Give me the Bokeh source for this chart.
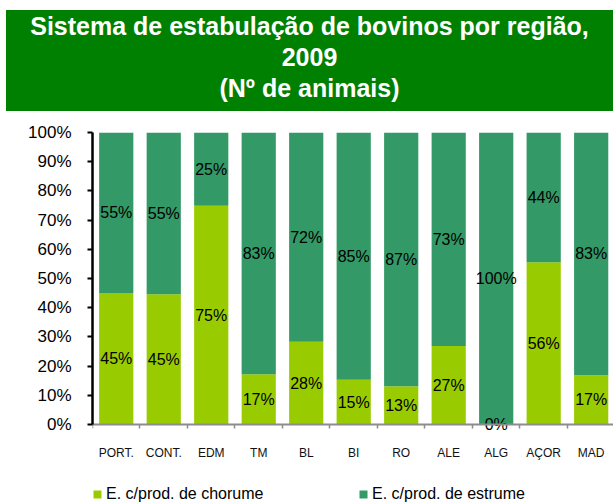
from bokeh.plotting import figure
from bokeh.models import (Range1d, FixedTicker, LinearAxis, Legend, LegendItem,
                          ColumnDataSource, Div)
from bokeh.layouts import column
from bokeh.core.properties import value
from bokeh.embed import file_html
from bokeh.resources import INLINE

# ---------------- data ----------------
categories = ["PORT.", "CONT.", "EDM", "TM", "BL", "BI", "RO", "ALE", "ALG", "AÇOR", "MAD"]
chorume = [45.0, 44.6, 74.9, 17.2, 28.3, 15.3, 13.1, 26.9, 0.0, 55.6, 16.9]
estrume = [55.0, 55.4, 25.1, 82.8, 71.7, 84.7, 86.9, 73.1, 100.0, 44.4, 83.1]
series_names = ["E. c/prod. de chorume", "E. c/prod. de estrume"]
y_ticks = [0, 10, 20, 30, 40, 50, 60, 70, 80, 90, 100]
y_tick_labels = ["0%", "10%", "20%", "30%", "40%", "50%", "60%", "70%", "80%", "90%", "100%"]
title_lines = ["Sistema de estabulação de bovinos por região,", "2009", "(Nº de animais)"]

FONT = "Liberation Sans"
LIGHT = "#99CC00"
DARK = "#339966"
HEADER = "#008000"
W = 613

# ---------------- header ----------------
hdr_html = (
    '<div style="padding:10px 0 0 6px;width:613px;height:112px;box-sizing:border-box;">'
    '<div style="width:607px;height:101px;background:%s;color:white;'
    'font-family:\'%s\';font-weight:bold;font-size:25px;line-height:31px;'
    'text-align:center;padding-top:1px;box-sizing:border-box;">%s</div></div>'
    % (HEADER, FONT, "<br>".join(title_lines))
)
hdr = Div(text=hdr_html, width=W, height=112, margin=0)

# ---------------- main chart ----------------
xs = list(range(len(categories)))
src = ColumnDataSource(dict(x=xs, chorume=chorume, estrume=estrume))

p = figure(width=W, height=392, output_backend="svg", toolbar_location=None,
           x_range=Range1d(-0.5, 10.47), y_range=Range1d(-27.4, 100),
           x_axis_type=None, y_axis_type=None,
           min_border_left=92, min_border_right=0, min_border_top=20, min_border_bottom=0,
           outline_line_color=None, background_fill_color="white", border_fill_color="white")

rs = p.vbar_stack(["chorume", "estrume"], x="x", width=0.72, source=src,
                  color=[LIGHT, DARK], line_width=0)

# y axis
yaxis = LinearAxis(ticker=FixedTicker(ticks=y_ticks, minor_ticks=[]), bounds=(0, 100),
                   major_label_overrides={t: l for t, l in zip(y_ticks, y_tick_labels)})
yaxis.axis_line_color = "black"
yaxis.axis_line_width = 2.5
yaxis.major_tick_line_color = "black"
yaxis.major_tick_line_width = 2
yaxis.major_tick_out = 5
yaxis.major_tick_in = 0
yaxis.minor_tick_line_color = None
yaxis.major_label_standoff = 16
yaxis.major_label_text_font = FONT
yaxis.major_label_text_font_size = "17px"
yaxis.major_label_text_color = "black"
p.add_layout(yaxis, "left")

# x axis, drawn at y = 0 inside the frame
boundaries = [i - 0.5 for i in range(len(categories) + 1)]
xaxis = LinearAxis(ticker=FixedTicker(ticks=xs, minor_ticks=boundaries), fixed_location=0,
                   major_label_overrides={x: c for x, c in zip(xs, categories)})
xaxis.axis_line_color = "#8c8c8c"
xaxis.axis_line_width = 2
xaxis.major_tick_line_color = None
xaxis.major_tick_out = 0
xaxis.major_tick_in = 0
xaxis.minor_tick_line_color = "#8c8c8c"
xaxis.minor_tick_line_width = 1.5
xaxis.minor_tick_out = 4
xaxis.minor_tick_in = 0
xaxis.major_label_standoff = 18
xaxis.major_label_text_font = FONT
xaxis.major_label_text_font_size = "12px"
xaxis.major_label_text_color = "#111111"
p.add_layout(xaxis, "below")

# grid
p.ygrid.ticker = FixedTicker(ticks=y_ticks)
p.ygrid.grid_line_color = "#8c8c8c"
p.ygrid.grid_line_width = 2
p.xgrid.visible = False

# data labels
lab_x = xs + xs
lab_y = [c / 2 for c in chorume] + [c + e / 2 for c, e in zip(chorume, estrume)]
lab_t = [f"{round(c)}%" for c in chorume] + [f"{round(e)}%" for e in estrume]
p.text(x=lab_x, y=lab_y, text=lab_t, text_align="center", text_baseline="middle",
       text_font=value(FONT), text_font_size="16px", text_color="black")

# legend
legend = Legend(items=[LegendItem(label=series_names[0], renderers=[rs[0]]),
                       LegendItem(label=series_names[1], renderers=[rs[1]])],
                location=(0, 1), orientation="horizontal",
                glyph_width=10, glyph_height=10, label_height=16,
                label_standoff=4, label_width=252,
                spacing=0, padding=0, margin=0, border_line_color=None,
                background_fill_alpha=0, label_text_font=FONT,
                label_text_font_size="16px", label_text_color="black")
p.add_layout(legend, "center")

layout = column(hdr, p, spacing=0)
open("out.html", "w").write(file_html(layout, INLINE))
